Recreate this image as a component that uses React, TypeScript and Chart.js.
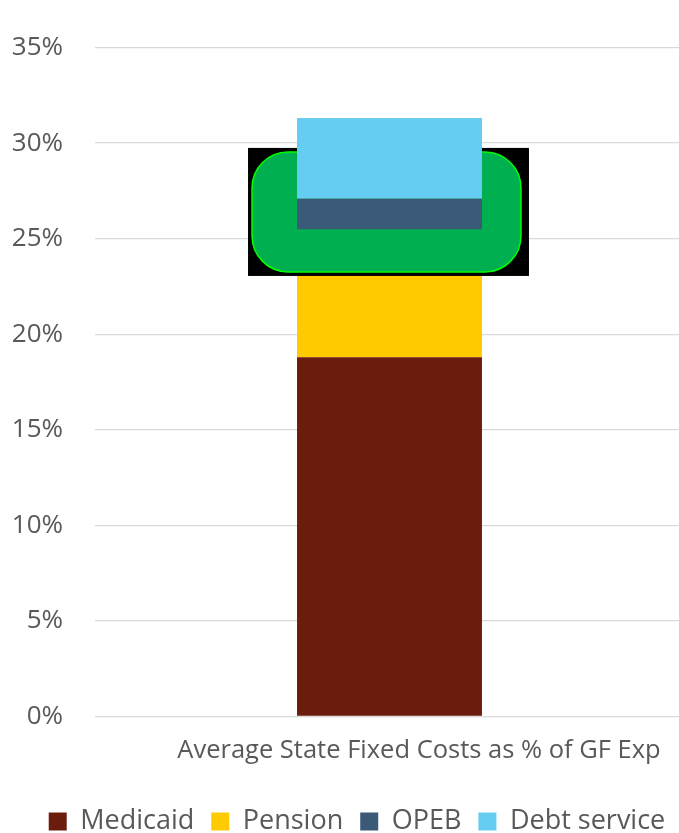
import React, { useEffect, useRef } from "react";
import { Chart, registerables } from "chart.js";

Chart.register(...registerables);

const categories = ["Average State Fixed Costs as % of GF Exp"];
const seriesNames = ["Medicaid", "Pension", "OPEB", "Debt service"];
const medicaid = [18.8];
const pension = [6.7];
const opeb = [1.6];
const debtService = [4.2];
const seriesColors = ["#6B1C0D", "#FFCA00", "#3A5A78", "#66CDF2"];
const yTicks = [0, 5, 10, 15, 20, 25, 30, 35];

// Decorative overlay (value-space vertical extent)
const overlayTop = 29.75;
const overlayBottom = 23.05;

const FONT = "'Open Sans', 'DejaVu Sans', sans-serif";
const TEXT = "#595959";

const overlayPlugin = {
  id: "overlay",
  afterDatasetsDraw(chart: any) {
    const ctx = chart.ctx;
    const y = chart.scales.y;
    const bar = chart.getDatasetMeta(0).data[0];
    if (!bar) return;
    const half = bar.width / 2;
    const left = bar.x - half - 49;
    const right = bar.x + half + 47;
    const top = y.getPixelForValue(overlayTop);
    const bottom = y.getPixelForValue(overlayBottom);
    ctx.save();
    ctx.fillStyle = "#000000";
    ctx.fillRect(left, top, right - left, bottom - top);
    const gl = left + 4, gt = top + 4, gr = right - 8, gb = bottom - 4;
    ctx.beginPath();
    (ctx as any).roundRect(gl, gt, gr - gl, gb - gt, 36);
    ctx.fillStyle = "#00AF4F";
    ctx.fill();
    ctx.lineWidth = 1.5;
    ctx.strokeStyle = "#00FF00";
    ctx.stroke();
    ctx.restore();
    // upper segments sit above the overlay
    [2, 3].forEach((i) => {
      chart.getDatasetMeta(i).data.forEach((el: any) => el.draw(ctx));
    });
  },
};

export default function App() {
  const ref = useRef<HTMLCanvasElement>(null);
  useEffect(() => {
    if (!ref.current) return;
    const values = [medicaid, pension, opeb, debtService];
    const chart = new Chart(ref.current, {
      type: "bar",
      data: {
        labels: categories,
        datasets: seriesNames.map((name, i) => ({
          label: name,
          data: values[i],
          backgroundColor: seriesColors[i],
          borderWidth: 0,
          barPercentage: 0.314,
          categoryPercentage: 1,
        })),
      },
      options: {
        animation: false,
        responsive: false,
        layout: { padding: { left: 10, right: 31, top: 46, bottom: 0 } },
        plugins: {
          legend: {
            position: "bottom",
            labels: {
              boxWidth: 18,
              boxHeight: 18,
              padding: 17,
              color: TEXT,
              font: { family: FONT, size: 27 },
            },
          },
          tooltip: { enabled: false },
        },
        scales: {
          x: {
            stacked: true,
            grid: { display: false },
            border: { display: false },
            afterFit: (s: any) => {
              s.height = 74.6;
            },
            ticks: {
              color: TEXT,
              font: { family: FONT, size: 25.5 },
              padding: 11,
              labelOffset: 29.5,
              maxRotation: 0,
            },
          },
          y: {
            stacked: true,
            min: 0,
            max: 35,
            afterFit: (s: any) => {
              s.width = 85;
            },
            afterBuildTicks: (s: any) => {
              s.ticks = yTicks.map((v) => ({ value: v }));
            },
            grid: { color: "#D9D9D9", lineWidth: 1.3, drawTicks: false },
            border: { display: false },
            ticks: {
              color: TEXT,
              font: { family: FONT, size: 26 },
              padding: 32,
              callback: (v: any) => v + "%",
            },
          },
          yRight: {
            position: "right",
            display: true,
            min: 0,
            max: 35,
            afterFit: (s: any) => {
              s.width = 20;
            },
            grid: { display: false, drawTicks: false },
            border: { display: false },
            ticks: { display: false },
          },
        },
      },
      plugins: [overlayPlugin],
    });
    return () => chart.destroy();
  }, []);
  return (
    <div style={{ position: "fixed", left: 0, top: 0, right: 0, bottom: 0, overflow: "hidden", background: "#fff" }}>
      <canvas ref={ref} width={735} height={845} style={{ display: "block", width: 735, height: 845 }} />
    </div>
  );
}
